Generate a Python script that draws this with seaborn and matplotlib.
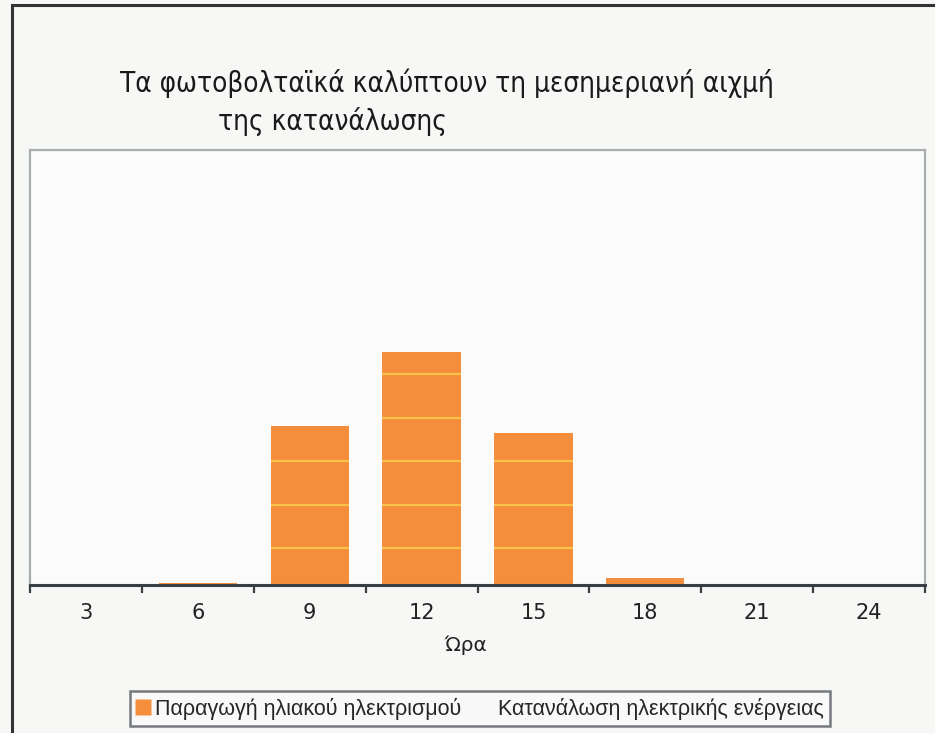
import matplotlib
matplotlib.use("Agg")
import matplotlib.pyplot as plt
import seaborn as sns
import pandas as pd
from matplotlib.lines import Line2D
from matplotlib.patches import Rectangle

# ---- data ----
hours = ["3", "6", "9", "12", "15", "18", "21", "24"]
solar = [0.0, 0.05, 3.65, 5.35, 3.5, 0.15, 0.0, 0.0]
series_solar = "Παραγωγή ηλιακού ηλεκτρισμού"
series_cons = "Κατανάλωση ηλεκτρικής ενέργειας"
title_line1 = "Τα φωτοβολταϊκά καλύπτουν τη μεσημεριανή αιχμή"
title_line2 = "της κατανάλωσης"
xlabel = "Ώρα"
grid_levels = [0.85, 1.85, 2.85, 3.85, 4.85]

df = pd.DataFrame({"hour": hours, "value": solar})

sns.set_theme(style="white")
plt.rcParams["font.family"] = ["DejaVu Sans"]

W, H = 935, 733
fig = plt.figure(figsize=(W / 100, H / 100), dpi=100, facecolor="#F7F7F6")
ax = fig.add_axes([30 / W, 1 - 585 / H, (925 - 30) / W, (585 - 150) / H])
ax.set_facecolor("#FBFBFB")

bar_color = "#F58E3C"
sns.barplot(data=df, x="hour", y="value", order=hours, color=bar_color,
            width=0.7, saturation=1, ax=ax, zorder=2)

ax.set_ylim(0, 10)
ax.set_xlim(-0.5, len(hours) - 0.5)

# light gridlines visible only through the bars
for p in list(ax.patches):
    p.set_edgecolor("none")
    for lv in grid_levels:
        ln = ax.axhline(lv, color="#FCC24E", lw=1.6, zorder=3)
        ln.set_clip_path(p)

# axes styling
for s in ["left", "top", "right"]:
    ax.spines[s].set_color("#A8ADAD")
    ax.spines[s].set_linewidth(1.6)
ax.spines["bottom"].set_color("#3A3F45")
ax.spines["bottom"].set_linewidth(2.2)
ax.set_yticks([])
ax.set_ylabel("")
ax.set_xticks(range(len(hours)))
ax.set_xticklabels(hours, fontsize=15, color="#222222")
ax.set_xticks([i - 0.5 for i in range(len(hours) + 1)], minor=True)
ax.tick_params(axis="x", which="major", length=0, pad=13)
ax.tick_params(axis="x", which="minor", length=6, width=1.6, color="#3A3F45",
               direction="out", bottom=True)
ax.set_xlabel(xlabel, fontsize=14.5, color="#222222")
ax.xaxis.set_label_coords((466 - 30) / 895, -0.115)

# titles
tfam = ["DejaVu Sans"]
fig.text(120 / W, 1 - 83 / H, title_line1, fontsize=20, family=tfam,
         stretch="condensed", ha="left", va="center", color="#1A1A1A")
fig.text(218 / W, 1 - 122 / H, title_line2, fontsize=20, family=tfam,
         stretch="condensed", ha="left", va="center", color="#1A1A1A")

# outer border
fig.patches.append(Rectangle((12 / W, -0.05), 1.2, 1 - 5 / H + 0.05,
                             transform=fig.transFigure, fill=False,
                             edgecolor="#333333", lw=2.2))

# legend
handles = [Line2D([], [], marker="s", color="none", markerfacecolor=bar_color,
                  markeredgecolor="none", markersize=11),
           Line2D([], [], color="none")]
leg = fig.legend(handles, [series_solar, series_cons], ncol=2,
                 loc="lower left", bbox_to_anchor=(130 / W, 1 - 726 / H),
                 frameon=True, fancybox=False,
                 prop={"family": ["Liberation Sans", "DejaVu Sans"], "size": 15.5},
                 handlelength=0.6, handletextpad=0.25, columnspacing=0.85,
                 borderpad=0.3, borderaxespad=0)
leg.get_frame().set_edgecolor("#555B60")
leg.get_frame().set_linewidth(1.8)
leg.get_frame().set_facecolor("#FAFAFA")

fig.savefig("out.png", dpi=100, facecolor=fig.get_facecolor())
